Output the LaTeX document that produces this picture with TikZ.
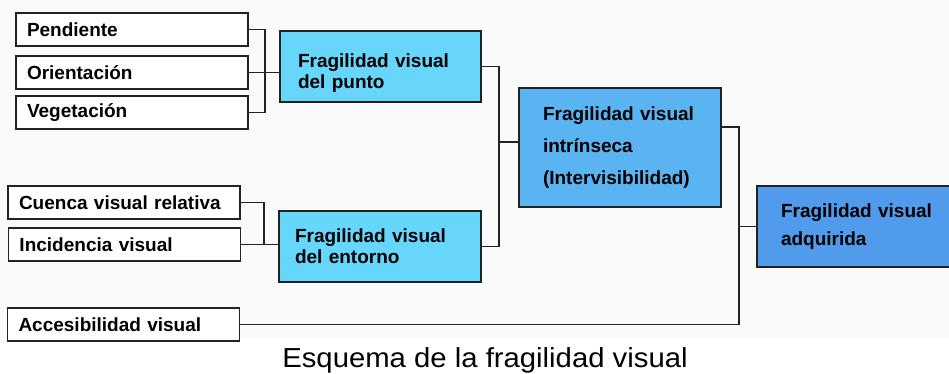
\documentclass[tikz,border=0pt]{standalone}
\usepackage{fontspec}
\setmainfont{Liberation Sans}
\usetikzlibrary{calc}
\definecolor{cpt}{HTML}{66D6FA}
\definecolor{cin}{HTML}{5AB4F2}
\definecolor{cad}{HTML}{509BEB}
\definecolor{bord}{HTML}{222222}
\definecolor{bgc}{HTML}{FAFAFA}
\tikzset{
  box/.style={draw=bord, line width=1.5pt, align=left, inner ysep=0pt, text=black,
    font=\fontsize{19}{21}\selectfont\bfseries},
  leaf/.style={box, fill=white, minimum height=33pt, minimum width=232pt, inner xsep=11pt, text width=210pt},
  conn/.style={draw=bord, line width=1.5pt},
}
\begin{document}
\begin{tikzpicture}[x=1pt,y=-1pt]
\useasboundingbox (0,0) rectangle (949,374);
\clip (0,0) rectangle (949,374);
\fill[white] (0,0) rectangle (949,374);
\fill[bgc] (0,0) rectangle (949,338);
% bus coordinates
\coordinate (b1) at (265,0);
\coordinate (b2) at (264,0);
\coordinate (b3) at (499,0);
\coordinate (b4) at (739,0);
% leaf boxes
\node[leaf] (pend) at (132,29.5) {Pendiente};
\node[leaf] (orient) at (132,72.5) {Orientación};
\node[leaf] (veg) at (132,112.5) {Vegetación};
\node[leaf] (cuenca) at (124,202.5) {Cuenca visual relativa};
\node[leaf] (incid) at (124.5,244.5) {Incidencia visual};
\node[leaf] (acces) at (123.5,324.5) {Accesibilidad visual};
% middle boxes
\node[box, fill=cpt, minimum width=201pt, minimum height=71pt, inner xsep=18pt, text width=165pt] (punto) at (380.5,66.5) {\rule{0pt}{26pt}Fragilidad visual\\del punto};
\node[box, fill=cpt, minimum width=202pt, minimum height=71pt, inner xsep=16pt, text width=170pt] (entorno) at (380,246.5) {Fragilidad visual\\del entorno};
\node[box, fill=cin, minimum width=202pt, minimum height=119pt, inner xsep=24pt, text width=154pt,
  font=\fontsize{19}{32}\selectfont\bfseries] (intr) at (620,147.5) {Fragilidad visual\\intrínseca\\(Intervisibilidad)};
\node[box, fill=cad, minimum width=200pt, minimum height=81pt, inner xsep=24pt, text width=152pt,
  font=\fontsize{19}{28}\selectfont\bfseries] (adq) at (857,226.5) {Fragilidad visual\\adquirida};
% connectors
\draw[conn] (pend.east) -| (b1 |- veg.east) -- (veg.east);
\draw[conn] (orient.east) -- (orient.east -| punto.west);
\draw[conn] (cuenca.east) -| (b2 |- incid.east) -- (incid.east);
\draw[conn] (incid.east) -- (incid.east -| entorno.west);
\draw[conn] (punto.east) -| (b3 |- entorno.east) -- (entorno.east);
\coordinate (j1) at ($(intr.west)+(0,-5.5)$);
\draw[conn] (b3 |- j1) -- (j1);
\coordinate (j2) at ($(intr.east)+(0,-20.5)$);
\draw[conn] (j2) -| (b4 |- acces.east) -- (acces.east);
\draw[conn] (b4 |- adq.west) -- (adq.west);
% caption
\node[anchor=base, inner sep=0pt, xscale=1.065, font=\fontsize{27.5}{30}\selectfont] (cap) at (485,367) {Esquema de la fragilidad visual};
\end{tikzpicture}
\end{document}
